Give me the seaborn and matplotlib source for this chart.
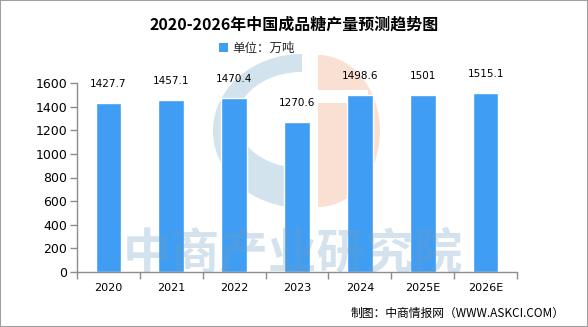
import matplotlib
matplotlib.use("Agg")
import matplotlib.pyplot as plt
import seaborn as sns
import pandas as pd
import numpy as np
from matplotlib.patches import Rectangle, Patch, Polygon
from matplotlib.transforms import IdentityTransform

years = ["2020", "2021", "2022", "2023", "2024", "2025E", "2026E"]
values = [1427.7, 1457.1, 1470.4, 1270.6, 1498.6, 1501, 1515.1]
value_labels = ["1427.7", "1457.1", "1470.4", "1270.6", "1498.6", "1501", "1515.1"]
yticks = [0, 200, 400, 600, 800, 1000, 1200, 1400, 1600]
title = "2020-2026年中国成品糖产量预测趋势图"
legend_label = "单位：万吨"
footer = "制图：中商情报网（WWW.ASKCI.COM）"
watermark = "中商产业研究院"

sns.set_theme(style="white")
plt.rcParams['font.family'] = ['Noto Sans CJK SC', 'DejaVu Sans']

BAR = "#3f9df3"
W, H = 588, 327
fig = plt.figure(figsize=(W / 100, H / 100), dpi=100)
ax = fig.add_axes([77 / W, (H - 272) / H, (517 - 77) / W, (272 - 83) / H])
ax.set_facecolor("none")

df = pd.DataFrame({"year": years, "value": values})
sns.barplot(data=df, x="year", y="value", color=BAR, saturation=1, width=0.41, ax=ax, zorder=2)

ax.set_xlim(-0.5, len(years) - 0.5)
ax.set_ylim(0, 1600)
ax.set_yticks(yticks)
ax.set_xlabel("")
ax.set_ylabel("")

for s in ["top", "right"]:
    ax.spines[s].set_visible(False)
for s in ["left", "bottom"]:
    ax.spines[s].set_color("#8c8c8c")
    ax.spines[s].set_linewidth(1)

ax.tick_params(axis="y", which="major", direction="out", length=5, width=1, color="#8c8c8c",
               labelsize=9, labelcolor="black", left=True, pad=2)
ax.tick_params(axis="x", which="major", length=0, labelsize=8, labelcolor="black", pad=8)
ax.set_xticks(np.arange(-0.5, len(years)), minor=True)
ax.tick_params(axis="x", which="minor", direction="out", length=5, width=1, color="#8c8c8c", bottom=True)
for lab in ax.get_yticklabels() + ax.get_xticklabels():
    lab.set_family(["DejaVu Sans"])

for i, (v, t) in enumerate(zip(values, value_labels)):
    ax.annotate(t, (i, v), xytext=(0, 10), textcoords="offset points",
                ha="center", va="bottom", fontsize=7.5, color="black", family=["DejaVu Sans"])

# logo decoration drawn in pixel coordinates (image y flipped)
ident = IdentityTransform()
blue_logo = "#d2e3ee"
peach_logo = "#fadfd3"


def half_ellipse(cx, cy, rx, ry, t0, t1, n=60):
    t = np.linspace(np.radians(t0), np.radians(t1), n)
    return np.column_stack([cx + rx * np.cos(t), (H - cy) + ry * np.sin(t)])


outer = half_ellipse(302, 131, 89, 77, 90, 270)
inner = half_ellipse(302, 120, 65, 48, 270, 90)
ring = np.vstack([outer, inner])
peach = np.vstack([half_ellipse(318, 131, 62, 76, -90, 90)])

shapes = [
    Polygon(ring, closed=True, facecolor=blue_logo, edgecolor="none"),
    Polygon(peach, closed=True, facecolor=peach_logo, edgecolor="none"),
    Rectangle((318, H - 103), 50, 13, facecolor="white", edgecolor="none"),
]
for s in shapes:
    s.set_transform(ident)
    s.set_zorder(0.5)
    s.set_clip_on(False)
    ax.add_patch(s)

fig.text(293 / W, 1 - 255 / H, watermark, ha="center", va="center", fontsize=35,
         fontweight="bold", color="#6f9fc4", alpha=0.30, zorder=5)

fig.text(0.5, 1 - 25 / H, title, ha="center", va="center", fontsize=11.5, fontweight="bold",
         color="black")

fig.legend(handles=[Patch(facecolor=BAR, edgecolor="none")], labels=[legend_label],
           loc="center", bbox_to_anchor=(257 / W, 1 - 48 / H), frameon=False,
           fontsize=9, handlelength=0.7, handleheight=0.7, handletextpad=0.4)

fig.text(565 / W, 1 - 313 / H, footer, ha="right", va="center", fontsize=8.5, color="black")

fig.patches.append(Rectangle((0, 0), 1, 1, transform=fig.transFigure, fill=False,
                             edgecolor="#a0a0a0", linewidth=1.5, zorder=10))

fig.savefig("out.png", dpi=100)
